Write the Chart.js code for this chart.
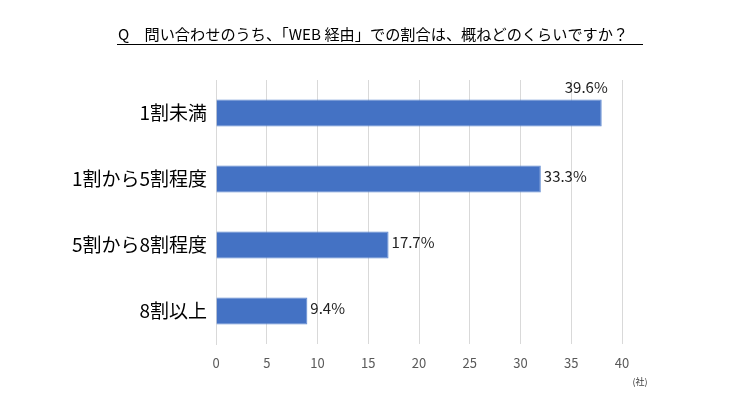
<!DOCTYPE html>
<html lang="ja">
<head>
<meta charset="utf-8">
<script src="https://cdn.jsdelivr.net/npm/chart.js@4"></script>
<style>
  html, body { margin: 0; padding: 0; background: #fff; }
  #wrap { width: 735px; height: 413px; position: relative; }
</style>
</head>
<body>
<div id="wrap"><canvas id="webChart"></canvas></div>
<script>
const titleText = "Q　問い合わせのうち、「WEB 経由」での割合は、概ねどのくらいですか？";
const categories = ["1割未満", "1割から5割程度", "5割から8割程度", "8割以上"];
const companies = [38, 32, 17, 9];
const percentLabels = ["39.6%", "33.3%", "17.7%", "9.4%"];
const xTicks = [0, 5, 10, 15, 20, 25, 30, 35, 40];
const unitLabel = "(社)";

const jpFont = "'Noto Sans CJK JP', 'Noto Sans', sans-serif";

// title + underline, unit text, percent labels
const extras = {
  id: "extras",
  afterDraw(chart) {
    const ctx = chart.ctx;
    const area = chart.chartArea;
    ctx.save();
    ctx.fillStyle = "#000";
    ctx.font = "15.2px " + jpFont;
    ctx.textAlign = "left";
    ctx.textBaseline = "alphabetic";
    ctx.fillText(titleText, 118, 40);
    ctx.strokeStyle = "#000";
    ctx.lineWidth = 1;
    ctx.beginPath();
    ctx.moveTo(117, 44.5);
    ctx.lineTo(643, 44.5);
    ctx.stroke();

    ctx.font = "9px " + jpFont;
    ctx.fillStyle = "#404040";
    ctx.textAlign = "center";
    ctx.textBaseline = "middle";
    ctx.fillText(unitLabel, 640, 382);

    ctx.font = "15px " + jpFont;
    ctx.fillStyle = "#222";
    const meta = chart.getDatasetMeta(0);
    meta.data.forEach((bar, i) => {
      const txt = percentLabels[i];
      const w = ctx.measureText(txt).width;
      if (bar.x + 4 + w > area.right) {
        ctx.textAlign = "right";
        ctx.textBaseline = "middle";
        ctx.fillText(txt, bar.x + 6, bar.y - 26);
      } else {
        ctx.textAlign = "left";
        ctx.textBaseline = "middle";
        ctx.fillText(txt, bar.x + 3, bar.y - 3);
      }
    });
    ctx.restore();
  },
};

const chartCtx = document.getElementById("webChart").getContext("2d");
const webChart = new Chart(chartCtx, {
  type: "bar",
  data: {
    labels: categories,
    datasets: [
      {
        data: companies,
        backgroundColor: "#4472C4",
        borderColor: "#5b86d0",
        borderWidth: 1,
        barPercentage: 0.82,
        categoryPercentage: 0.5,
      },
    ],
  },
  options: {
    indexAxis: "y",
    responsive: true,
    maintainAspectRatio: false,
    animation: false,
    layout: { padding: { top: 80, left: 0, right: 113, bottom: 0 } },
    plugins: {
      legend: { display: false },
      tooltip: { enabled: false },
    },
    scales: {
      x: {
        min: 0,
        max: 40,
        afterBuildTicks: (scale) => {
          scale.ticks = xTicks.map((v) => ({ value: v }));
        },
        afterFit: (scale) => {
          scale.height = 69;
        },
        grid: { color: "#d9d9d9", drawTicks: false },
        border: { display: false },
        ticks: {
          padding: 11,
          color: "#595959",
          font: { size: 13, family: jpFont },
        },
      },
      y: {
        afterFit: (scale) => {
          scale.width = 216;
        },
        grid: { display: false, drawTicks: false },
        border: { display: true, color: "#d9d9d9" },
        ticks: {
          padding: 9,
          color: "#000",
          font: { size: 19, family: jpFont },
        },
      },
    },
  },
  plugins: [extras],
});
</script>
</body>
</html>
